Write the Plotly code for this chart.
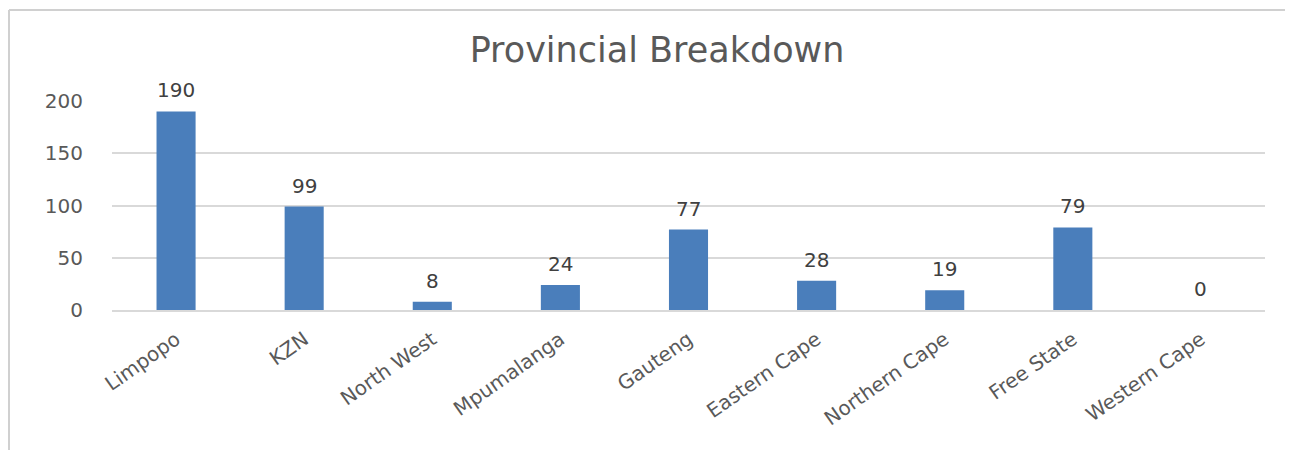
import plotly.graph_objects as go

categories = ["Limpopo", "KZN", "North West", "Mpumalanga", "Gauteng",
              "Eastern Cape", "Northern Cape", "Free State", "Western Cape"]
values = [190, 99, 8, 24, 77, 28, 19, 79, 0]
y_ticks = [0, 50, 100, 150, 200]

FONT = "DejaVu Sans"
GRAY = "#595959"

fig = go.Figure()
fig.add_trace(go.Bar(
    x=categories, y=values,
    marker=dict(color="#4a7ebb", line=dict(width=0)),
    hoverinfo="x+y",
))

for c, v in zip(categories, values):
    fig.add_annotation(x=c, y=v, text=str(v), showarrow=False,
                       yanchor="bottom", yshift=7,
                       font=dict(family=FONT, size=20, color="#404040"))

# page body has an 8px offset in the browser
W, H = 1293, 450
L, R, T, B = 104, 36, 93, 148
pw, ph = W - L - R, H - T - B
bx = (1 - L) / pw
by = (H - B - 2) / ph
fig.add_shape(type="line", xref="paper", yref="paper",
              x0=bx, x1=(W - L + 5) / pw, y0=by, y1=by,
              line=dict(color="#d0d0d0", width=2), layer="above")
fig.add_shape(type="line", xref="paper", yref="paper",
              x0=bx, x1=bx, y0=by, y1=-(B + 5) / ph,
              line=dict(color="#d0d0d0", width=2), layer="above")

fig.update_layout(
    width=W, height=H,
    margin=dict(l=L, r=R, t=T, b=B),
    paper_bgcolor="white", plot_bgcolor="white",
    bargap=0.695,
    showlegend=False,
    title=dict(text="Provincial Breakdown", x=(657 - 8) / W, xanchor="center",
               y=1 - 42 / H, yanchor="middle", yref="container",
               font=dict(family=FONT, size=35, color=GRAY)),
    font=dict(family=FONT, color=GRAY),
    xaxis=dict(tickangle=-35, tickfont=dict(family=FONT, size=20, color=GRAY),
               showgrid=False, showline=True, linecolor="#d9d9d9", linewidth=2,
               ticks="", zeroline=False, ticklabelstandoff=8),
    yaxis=dict(range=[0, 200], tickvals=y_ticks,
               tickfont=dict(family=FONT, size=20, color=GRAY),
               showgrid=True, gridcolor="#d9d9d9", gridwidth=2,
               zeroline=False, showline=False, ticks="",
               ticklabelstandoff=28),
)

fig.write_html("out.html")
